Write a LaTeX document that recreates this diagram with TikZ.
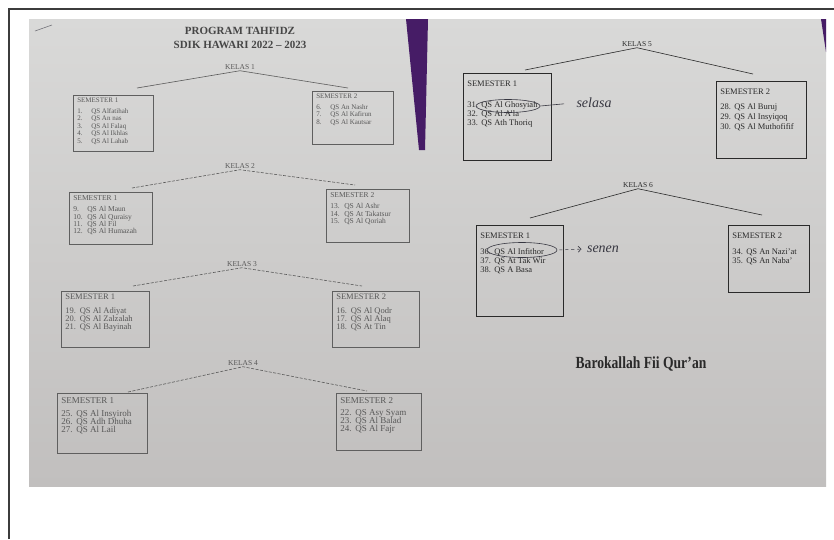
\documentclass[tikz,border=0pt]{standalone}
\usepackage{fontspec}
\setmainfont{Liberation Serif}
\usepackage{tikz}
\usetikzlibrary{arrows.meta}
\usetikzlibrary{shapes.geometric}
\usepackage{xcolor}
\definecolor{pagehi}{RGB}{217,217,216}
\definecolor{pagelo}{RGB}{193,191,190}
\definecolor{inkleft}{RGB}{88,88,88}
\definecolor{inkright}{RGB}{42,42,42}
\definecolor{boxline}{RGB}{95,95,95}
\definecolor{kelline}{RGB}{90,90,90}
\definecolor{clothpurple}{RGB}{70,28,102}
\definecolor{penink}{RGB}{55,55,65}
\definecolor{framecol}{RGB}{60,60,60}
\newcommand{\qsw}{14pt}
\newcommand{\qs}[2]{\makebox[\qsw][l]{#1}#2\par}
\newcommand{\semhead}[2]{#1\par\vspace{#2}}
\begin{document}
\begin{tikzpicture}[x=1pt,y=-1pt,
  semb/.style={draw=boxline,line width=0.6pt,anchor=north west,inner xsep=4pt,inner ysep=3pt,text=inkleft},
  sz/.style 2 args={font=\fontsize{#1}{#2}\selectfont},
  numcol/.code={\renewcommand{\qsw}{#1}},
  kel/.style={inner sep=1pt,text=inkleft,font=\fontsize{7.5}{8}\selectfont},
  kline/.style={draw=kelline,line width=0.6pt},
  kdash/.style={kline,dash pattern=on 3pt off 1.5pt},
  hand/.style={text=penink,font=\fontsize{14}{14}\selectfont\itshape}]
\useasboundingbox (0,0) rectangle (834,539);
\shade[top color=pagehi,bottom color=pagelo] (29,19) rectangle (826,486);
\fill[clothpurple] (406,19) -- (428,19) -- (425,150) -- (419,150) -- cycle;
\fill[clothpurple] (821,19) -- (826,19) -- (826,52) -- cycle;
\draw[framecol,line width=1.1pt] (9,539) -- (9,9) -- (834,9);
\draw[penink!70,line width=0.6pt] (35,31) -- (52,25);

\node[text=inkleft!80!black,font=\fontsize{11}{13}\selectfont\bfseries] (ttl) at (240,31) {PROGRAM TAHFIDZ};
\node[text=inkleft!80!black,font=\fontsize{11}{13}\selectfont\bfseries] (sub) at (240,45) {SDIK HAWARI 2022 -- 2023};

\node[kel] (k1) at (240,67) {KELAS 1};
\coordinate (k1l) at (137,88);
\coordinate (k1r) at (348,88);
\draw[kline] (k1l) -- (k1.south) -- (k1r);
\node[semb,sz={7}{7.6}] (k1a) at (73,95) {\parbox[t][50pt][t]{72pt}{\semhead{SEMESTER 1}{2.5pt}
\qs{1.}{QS Alfatihah}\qs{2.}{QS An nas}\qs{3.}{QS Al Falaq}\qs{4.}{QS Al Ikhlas}\qs{5.}{QS Al Lahab}}};
\node[semb,sz={7}{7.6}] (k1b) at (312,91) {\parbox[t][47pt][t]{73pt}{\semhead{SEMESTER 2}{2.5pt}
\qs{6.}{QS An Nashr}\qs{7.}{QS Al Kafirun}\qs{8.}{QS Al Kautsar}}};

\node[kel] (k2) at (240,166) {KELAS 2};
\coordinate (k2l) at (132,188);
\coordinate (k2r) at (355,185);
\draw[kdash] (k2l) -- (k2.south) -- (k2r);
\node[semb,sz={7.5}{7.4}] (k2a) at (69,192) {\parbox[t][46pt][t]{75pt}{\semhead{SEMESTER 1}{4pt}
\qs{9.}{QS Al Maun}\qs{10.}{QS Al Quraisy}\qs{11.}{QS Al Fil}\qs{12.}{QS Al Humazah}}};
\node[semb,sz={7.5}{7.4}] (k2b) at (326,189) {\parbox[t][47pt][t]{75pt}{\semhead{SEMESTER 2}{4pt}
\qs{13.}{QS Al Ashr}\qs{14.}{QS At Takatsur}\qs{15.}{QS Al Qoriah}}};

\node[kel] (k3) at (242,264) {KELAS 3};
\coordinate (k3l) at (133,286);
\coordinate (k3r) at (362,286);
\draw[kdash] (k3l) -- (k3.south) -- (k3r);
\node[semb,sz={8.5}{8},numcol=14.5pt] (k3a) at (61,291) {\parbox[t][50pt][t]{80pt}{\semhead{SEMESTER 1}{6pt}
\qs{19.}{QS Al Adiyat}\qs{20.}{QS Al Zalzalah}\qs{21.}{QS Al Bayinah}}};
\node[semb,sz={8.5}{8},numcol=14.5pt] (k3b) at (332,291) {\parbox[t][50pt][t]{79pt}{\semhead{SEMESTER 2}{6pt}
\qs{16.}{QS Al Qodr}\qs{17.}{QS Al Alaq}\qs{18.}{QS At Tin}}};

\node[kel] (k4) at (243,363) {KELAS 4};
\coordinate (k4l) at (128,392);
\coordinate (k4r) at (367,391);
\draw[kdash] (k4l) -- (k4.south) -- (k4r);
\node[semb,sz={9}{8.2},inner ysep=4pt,numcol=15pt] (k4a) at (57,393) {\parbox[t][52pt][t]{82pt}{\semhead{SEMESTER 1}{5pt}
\qs{25.}{QS Al Insyiroh}\qs{26.}{QS Adh Dhuha}\qs{27.}{QS Al Lail}}};
\node[semb,sz={9}{8.2},inner ysep=4pt,numcol=15pt] (k4b) at (336,393) {\parbox[t][49pt][t]{77pt}{\semhead{SEMESTER 2}{4pt}
\qs{22.}{QS Asy Syam}\qs{23.}{QS Al Balad}\qs{24.}{QS Al Fajr}}};

\node[kel,text=inkright] (k5) at (637,44) {KELAS 5};
\coordinate (k5l) at (525,70);
\coordinate (k5r) at (753,74);
\draw[kline,draw=inkright] (k5l) -- (k5.south) -- (k5r);
\node[semb,sz={8.5}{8.7},inner ysep=8pt,draw=inkright,text=inkright] (k5a) at (463,73) {\parbox[t][71pt][t]{80pt}{\semhead{SEMESTER 1}{12pt}
\qs{31.}{QS Al Ghosyiah}\qs{32.}{QS Al A'la}\qs{33.}{QS Ath Thoriq}}};
\node[semb,sz={8.5}{10},inner ysep=8pt,draw=inkright,text=inkright] (k5b) at (716,81) {\parbox[t][61pt][t]{82pt}{\semhead{SEMESTER 2}{5pt}
\qs{28.}{QS Al Buruj}\qs{29.}{QS Al Insyiqoq}\qs{30.}{QS Al Muthofifif}}};
\node[draw=penink,ellipse,line width=0.6pt,inner sep=0pt,minimum width=64pt,minimum height=13pt] (c5) at (508,106) {};
\node[hand] (sel) at (594,103) {selasa};
\draw[penink,line width=0.6pt,shorten >=9pt] (c5.east) -- (sel.west);

\node[kel,text=inkright] (k6) at (638,185) {KELAS 6};
\coordinate (k6l) at (530,218);
\coordinate (k6r) at (762,215);
\draw[kline,draw=inkright] (k6l) -- (k6.south) -- (k6r);
\node[semb,sz={8.5}{8.7},inner ysep=8pt,draw=inkright,text=inkright] (k6a) at (476,225) {\parbox[t][75pt][t]{79pt}{\semhead{SEMESTER 1}{7pt}
\qs{36.}{QS Al Infithor}\qs{37.}{QS At Tak Wir}\qs{38.}{QS A Basa}}};
\node[semb,sz={8.5}{8.7},inner ysep=8pt,draw=inkright,text=inkright] (k6b) at (728,225) {\parbox[t][51pt][t]{73pt}{\semhead{SEMESTER 2}{7pt}
\qs{34.}{QS An Nazi'at}\qs{35.}{QS An Naba'}}};
\node[draw=penink,ellipse,line width=0.6pt,inner sep=0pt,minimum width=70pt,minimum height=15pt] (c6) at (522,250) {};
\node[hand] (sn) at (603,249) {senen};
\draw[penink,line width=0.6pt,dashed,-{Straight Barb[length=3pt]},shorten <=2pt,shorten >=2pt] (c6.east) -- (sn.west);

\node[text=inkright,font=\fontsize{17}{17}\selectfont\bfseries] (bfq) at (641,364) {\scalebox{0.8}[1]{Barokallah Fii Qur’an}};
\end{tikzpicture}
\end{document}
